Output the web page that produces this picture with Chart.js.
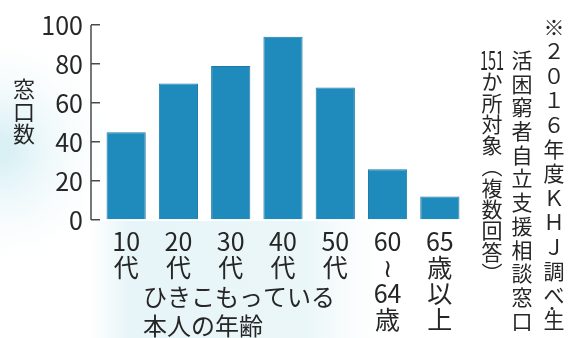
<!DOCTYPE html>
<html lang="ja">
<head>
<meta charset="utf-8">
<script src="https://cdn.jsdelivr.net/npm/chart.js@4/dist/chart.umd.min.js"></script>
<style>
  html, body { margin: 0; padding: 0; background: #fff; }
  #wrap { width: 569px; height: 338px; position: relative; }
</style>
</head>
<body>
<div id="wrap"><canvas id="c"></canvas></div>
<script>
// ひきこもっている本人の年齢別 窓口数
const ageLabels = [["10","代"], ["20","代"], ["30","代"], ["40","代"], ["50","代"], ["60","≀","64","歳"], ["65","歳","以","上"]];
const counts = [45, 70, 79, 94, 68, 26, 12];
const yTicks = [0, 20, 40, 60, 80, 100];
const yTitle = ["窓", "口", "数"];
const xTitle = ["ひきこもっている", "本人の年齢"];
const noteCols = [
  ["※","２","０","１","６","年","度","Ｋ","Ｈ","Ｊ","調","べ","生"],
  ["活","困","窮","者","自","立","支","援","相","談","窓","口"],
  ["151","か","所","対","象","︵","複","数","回","答","︶"],
];

const JP = "'Noto Sans CJK JP', 'Noto Sans', sans-serif";
const INK = "#262626";

// background tint, axis bracket and the vertical / free texts
const decor = {
  id: "decor",
  beforeDraw(chart) {
    const { ctx, width, height } = chart;
    ctx.save();
    ctx.fillStyle = "#fff";
    ctx.fillRect(0, 0, width, height);
    let g = ctx.createRadialGradient(0, 150, 10, 0, 150, 125);
    g.addColorStop(0, "rgba(210,237,243,0.85)");
    g.addColorStop(1, "rgba(255,255,255,0)");
    ctx.fillStyle = g;
    ctx.fillRect(0, 0, 140, 290);
    g = ctx.createLinearGradient(90, 0, 400, 0);
    g.addColorStop(0, "rgba(232,245,248,0)");
    g.addColorStop(0.12, "rgba(232,245,248,1)");
    g.addColorStop(0.7, "rgba(234,246,248,1)");
    g.addColorStop(1, "rgba(255,255,255,0)");
    ctx.fillStyle = g;
    ctx.fillRect(90, 221, 310, height - 221);
    ctx.restore();
  },
  afterDraw(chart) {
    const { ctx, chartArea } = chart;
    const y = chart.scales.y;
    ctx.save();
    // bracket line of the y axis
    const bx = chartArea.left - 9;
    ctx.strokeStyle = "#4a4a4a";
    ctx.lineWidth = 1.5;
    ctx.beginPath();
    ctx.moveTo(bx, y.getPixelForValue(0));
    ctx.lineTo(bx, y.getPixelForValue(100));
    ctx.stroke();

    ctx.fillStyle = INK;
    ctx.textAlign = "center";
    ctx.textBaseline = "middle";
    // y title, vertical
    ctx.font = "22px " + JP;
    yTitle.forEach((ch, i) => ctx.fillText(ch, 24, 89 + i * 22.5));
    // x title, under the labels
    ctx.textAlign = "left";
    ctx.font = "24px " + JP;
    xTitle.forEach((t, i) => ctx.fillText(t, 143, 297 + i * 29));

    // note on the right, vertical columns
    ctx.textAlign = "center";
    ctx.font = "21px " + JP;
    const colX = [554, 522, 492], colY = [27, 60, 60], pitch = [24.4, 23.7, 21.3];
    noteCols.forEach((col, c) => {
      col.forEach((ch, i) => {
        const cy = colY[c] + i * pitch[c];
        if (ch.length > 1) {
          ctx.save();
          ctx.translate(colX[c], cy);
          ctx.scale(0.58, 1);
          ctx.font = "25px " + JP;
          ctx.fillText(ch, 0, 0);
          ctx.restore();
        } else {
          ctx.fillText(ch, colX[c], cy);
        }
      });
    });
    ctx.font = "14px " + JP;
    ctx.fillText("・", colX[0] - 2, 308);
    ctx.restore();
  },
};

new Chart(document.getElementById("c"), {
  type: "bar",
  data: {
    labels: ageLabels,
    datasets: [{
      data: counts,
      backgroundColor: "#1f8bbd",
      borderColor: "#1b79a5",
      borderWidth: 1,
      barPercentage: 0.75,
      categoryPercentage: 1,
    }],
  },
  options: {
    responsive: true, maintainAspectRatio: false, animation: false,
    layout: { padding: { left: 40, right: 103, top: 25, bottom: 6 } },
    plugins: { legend: { display: false }, tooltip: { enabled: false } },
    scales: {
      x: {
        afterFit: s => { s.height = 112; },
        grid: { display: false, drawTicks: false },
        border: { display: false },
        ticks: { color: INK, font: { family: JP, size: 25, lineHeight: 1.04 }, padding: 8, maxRotation: 0, autoSkip: false },
      },
      y: {
        min: 0, max: 100,
        afterBuildTicks: s => { s.ticks = yTicks.map(v => ({ value: v })); },
        afterFit: s => { s.width = 60; },
        grid: { drawOnChartArea: false, drawTicks: true, tickLength: 9, color: "#4a4a4a", lineWidth: 1.5 },
        border: { display: false },
        ticks: { color: INK, font: { family: JP, size: 25 }, padding: 8 },
      },
    },
  },
  plugins: [decor],
});
</script>
</body>
</html>
